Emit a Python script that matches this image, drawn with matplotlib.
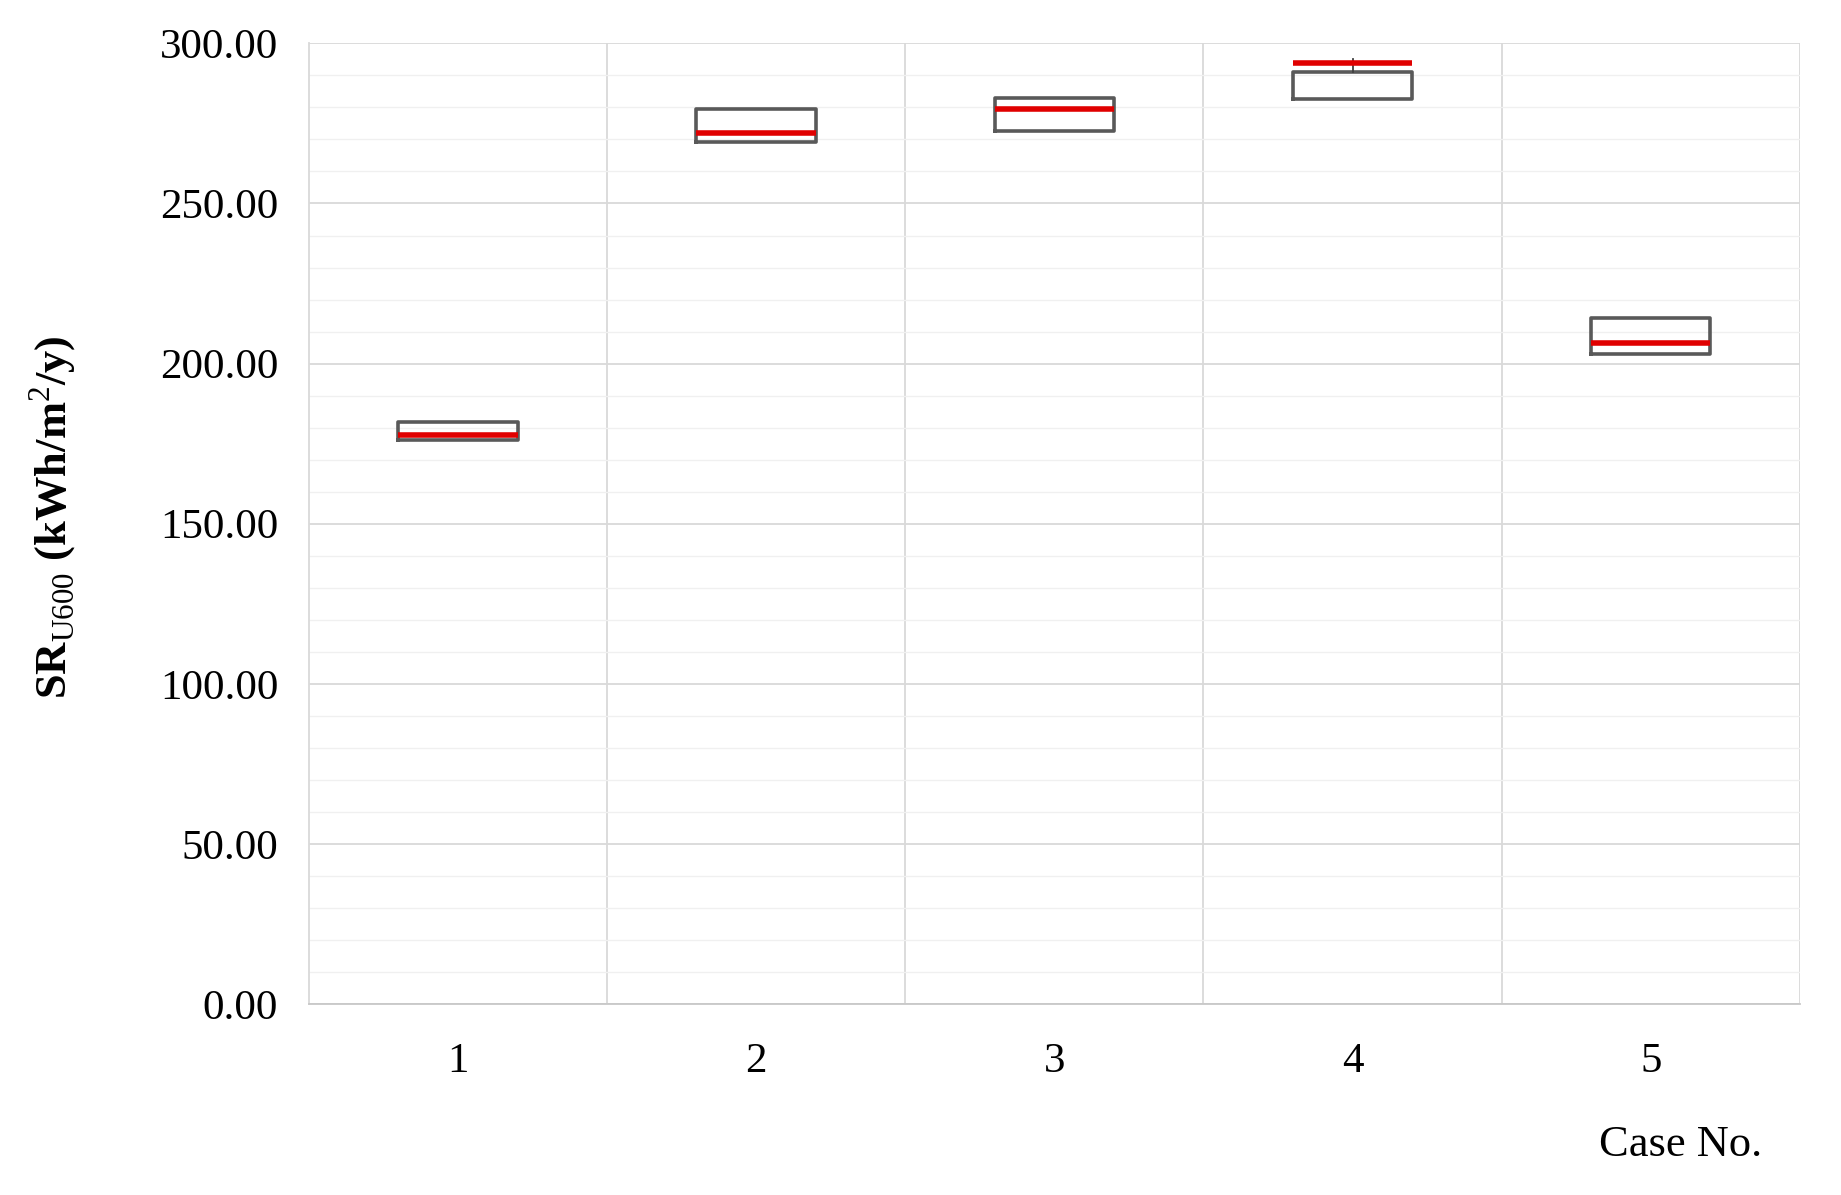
import matplotlib.pyplot as plt
import numpy as np

# values (kWh/m2/y)
cases = [1, 2, 3, 4, 5]
q1 = [176.1, 269.1, 272.6, 282.5, 203.0]
q3 = [181.9, 279.4, 282.9, 291.0, 214.1]
med = [177.7, 271.9, 279.4, 294.0, 206.3]
wlo = [176.1, 269.1, 272.6, 282.5, 203.0]
whi = [181.9, 279.4, 282.9, 295.1, 214.1]

plt.rcParams['font.family'] = ['Liberation Serif', 'DejaVu Serif']
plt.rcParams['mathtext.fontset'] = 'custom'
plt.rcParams['mathtext.rm'] = 'Liberation Serif'

fig = plt.figure(figsize=(18.41, 11.95), dpi=100)
ax = fig.add_axes([0.1677, 0.1598, 0.9777 - 0.1677, 0.9637 - 0.1598])

stats = []
for i in range(len(cases)):
    stats.append(dict(med=med[i], q1=q1[i], q3=q3[i], whislo=wlo[i], whishi=whi[i],
                      label=str(cases[i])))

ax.bxp(stats, positions=cases, widths=0.40, showfliers=False, showcaps=False,
       boxprops=dict(color='#595959', linewidth=2.6),
       medianprops=dict(color='#e00000', linewidth=4.0, solid_capstyle='butt'),
       whiskerprops=dict(color='#404040', linewidth=1.3), zorder=3)

ax.set_xlim(0.5, 5.5)
ax.set_ylim(0, 300)
ax.set_yticks(np.arange(0, 301, 50))
ax.set_yticklabels([f"{v:.2f}" for v in np.arange(0, 301, 50)])
ax.set_yticks(np.arange(0, 301, 10), minor=True)
ax.grid(axis='y', which='major', color='#d9d9d9', linewidth=1.3, zorder=0)
ax.grid(axis='y', which='minor', color='#f0f0f0', linewidth=1.0, zorder=0)
for xv in [1.5, 2.5, 3.5, 4.5, 5.5]:
    ax.axvline(xv, color='#d9d9d9', linewidth=1.3, zorder=0)

for s in ['top', 'right']:
    ax.spines[s].set_visible(False)
ax.spines['left'].set_color('#d9d9d9')
ax.spines['left'].set_linewidth(1.3)
ax.spines['bottom'].set_color('#c8c8c8')
ax.spines['bottom'].set_linewidth(1.3)

ax.tick_params(axis='both', which='both', length=0, labelsize=31, colors='black')
ax.tick_params(axis='y', pad=22)
ax.tick_params(axis='x', pad=28)

fig.text(0.029, 0.567, r'SR$_{\mathrm{U600}}$ (kWh/m$^{2}$/y)', rotation=90,
         fontsize=32, fontweight='bold', ha='center', va='center')
fig.text(0.957, 0.042, 'Case No.', fontsize=32, ha='right', va='center')

fig.savefig('out.png', dpi=100)
